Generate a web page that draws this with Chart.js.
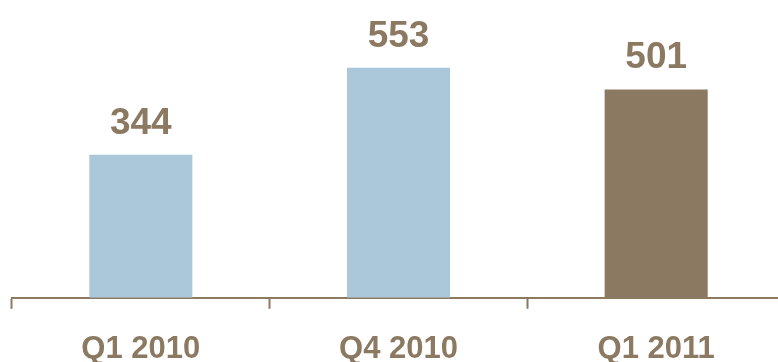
<!DOCTYPE html>
<html>
<head>
<meta charset="utf-8">
<script src="https://cdn.jsdelivr.net/npm/chart.js@4.4.1/dist/chart.umd.min.js"></script>
<style>
  html, body { margin: 0; padding: 0; background: #fff; overflow: hidden; }
  #wrap { width: 778px; height: 362px; overflow: hidden; }
</style>
</head>
<body>
<div id="wrap"><canvas id="myChart" width="785" height="390"></canvas></div>
<script>
const quarters = ['Q1 2010', 'Q4 2010', 'Q1 2011']; // periodos
const values = [344, 553, 501]; // valor por periodo
const barColors = ['#abc8da', '#abc8da', '#8b7962'];
const brown = '#8b7962';

// dibuja el valor encima de cada barra
const valueLabels = {
  id: 'valueLabels',
  afterDatasetsDraw(chart) {
    const ctx = chart.ctx;
    const meta = chart.getDatasetMeta(0);
    ctx.save();
    ctx.fillStyle = brown;
    ctx.font = 'bold 37px Arial, "Liberation Sans", sans-serif';
    ctx.textAlign = 'center';
    ctx.textBaseline = 'alphabetic';
    meta.data.forEach((bar, i) => {
      ctx.fillText(String(values[i]), bar.x, bar.y - 21);
    });
    ctx.restore();
  }
};

let chart = new Chart('myChart', {
  type: 'bar',
  data: {
    labels: quarters,
    datasets: [{
      data: values,
      backgroundColor: barColors,
      borderWidth: 0,
      barPercentage: 0.4,
      categoryPercentage: 1
    }]
  },
  options: {
    responsive: false,
    animation: false,
    layout: { padding: { left: 12, right: 0, top: 0, bottom: 0 } },
    plugins: { legend: { display: false }, tooltip: { enabled: false } },
    scales: {
      y: {
        display: false,
        min: 0,
        max: 716
      },
      x: {
        border: { display: true, color: brown, width: 2 },
        grid: {
          display: true,
          offset: true,
          drawOnChartArea: false,
          drawTicks: true,
          tickLength: 11,
          tickWidth: 2,
          tickColor: brown,
          color: brown
        },
        ticks: {
          color: brown,
          padding: 22,
          font: { family: 'Arial, "Liberation Sans", sans-serif', size: 31, weight: 'bold' }
        }
      }
    }
  },
  plugins: [valueLabels]
});
</script>
</body>
</html>
